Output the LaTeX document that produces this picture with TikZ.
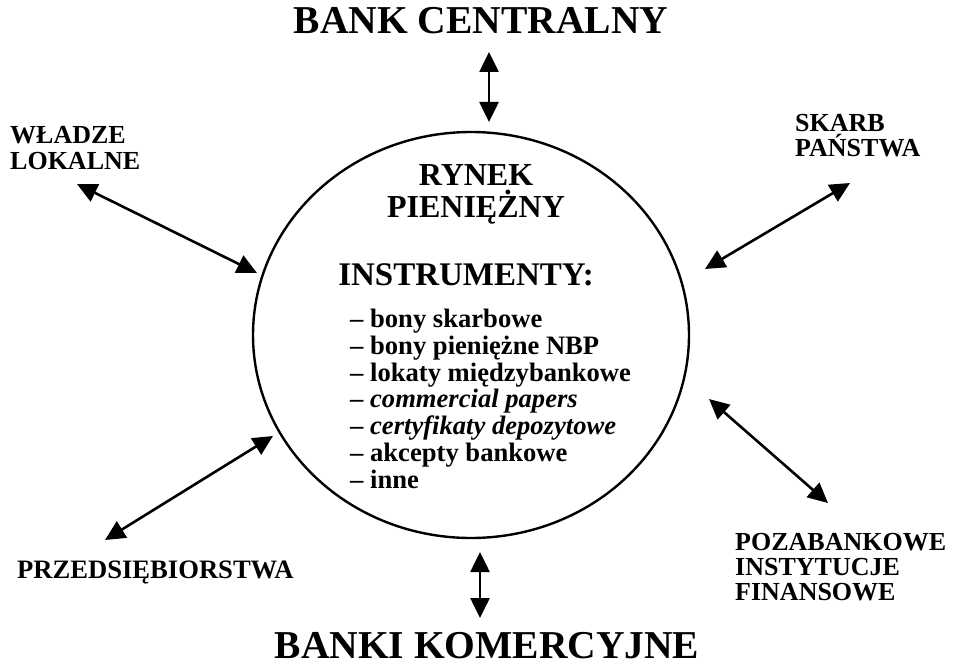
\documentclass[tikz,border=0pt]{standalone}
\usepackage{fontspec}
\setmainfont{Liberation Serif}
\usetikzlibrary{arrows.meta,shapes.geometric}
\begin{document}
\begin{tikzpicture}[x=1pt,y=-1pt,
  lbl/.style={font=\bfseries\fontsize{26}{25}\selectfont, inner sep=0, align=left, anchor=base west},
  big/.style={font=\bfseries\fontsize{39.5}{40}\selectfont, inner sep=0, anchor=base},
  link/.style={line width=2.6pt, {Triangle[length=20pt,width=19pt]}-{Triangle[length=20pt,width=19pt]}}]
\useasboundingbox (0,0) rectangle (956,666);
% central ellipse
\node (market) [draw, ellipse, line width=2.4pt, minimum width=436pt, minimum height=406pt, inner sep=0] at (471,335) {};
% texts (multi-line nodes: base = baseline of the last line)
\node (bc) [big] at (481,34) {BANK CENTRALNY};
\node (bk) [big] at (487,658) {BANKI KOMERCYJNE};
\node (wl) [lbl, font=\bfseries\fontsize{26}{27}\selectfont] at (10,170) {WŁADZE\\LOKALNE};
\node (sp) [lbl] at (795,157) {SKARB\\PAŃSTWA};
\node (pif) [lbl] at (735,600) {POZABANKOWE\\INSTYTUCJE\\FINANSOWE};
\node (prz) [lbl, font=\bfseries\fontsize{26.6}{26}\selectfont] at (17,578) {PRZEDSIĘBIORSTWA};
\node (rp) [inner sep=0, align=center, anchor=base, font=\bfseries\fontsize{32}{32}\selectfont] at (476,217) {RYNEK\\PIENIĘŻNY};
\node (ins) [inner sep=0, anchor=base, font=\bfseries\fontsize{33}{33}\selectfont] at (466,285) {INSTRUMENTY:};
\node (list) [lbl, font=\bfseries\fontsize{26.6}{26.7}\selectfont] at (350,488) {– bony skarbowe\\– bony pieniężne NBP\\– lokaty międzybankowe\\– \textit{commercial papers}\\– \textit{certyfikaty depozytowe}\\– akcepty bankowe\\– inne};
% arrow end points
\coordinate (bcA) at (489,52);   \coordinate (bcB) at (489,122);
\coordinate (bkA) at (480,552);  \coordinate (bkB) at (480,618);
\coordinate (wlA) at (77,184);   \coordinate (wlB) at (257,273);
\coordinate (spA) at (850,183);  \coordinate (spB) at (705,269);
\coordinate (pifA) at (709,399); \coordinate (pifB) at (828,503);
\coordinate (przA) at (273,436); \coordinate (przB) at (105,540);
\draw[link] (bcA) -- (bcB);
\draw[link] (bkA) -- (bkB);
\draw[link] (wlA) -- (wlB);
\draw[link] (spA) -- (spB);
\draw[link] (pifA) -- (pifB);
\draw[link] (przA) -- (przB);
\end{tikzpicture}
\end{document}
